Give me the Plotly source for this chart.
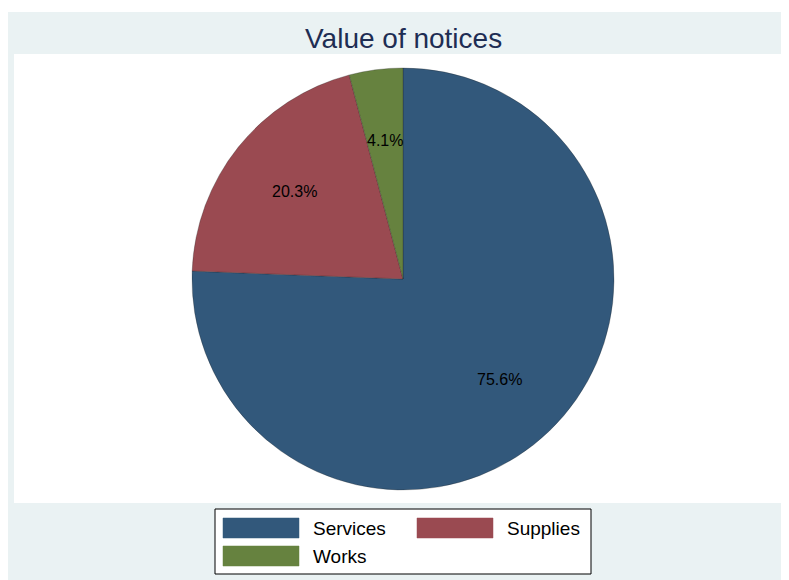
import math

import plotly.graph_objects as go

labels = ["Services", "Supplies", "Works"]
shares = [75.6, 20.3, 4.1]
colors = ["#32587b", "#9a4a51", "#66823f"]

# the page body adds an 8px margin, so the figure is 8px smaller and everything is shifted back
OFF = 8
W, H = 789 - OFF, 580 - OFF


def px(x):
    return (x - OFF) / W


def py(y):
    return 1 - (y - OFF) / H


# pie placement in pixels of the window
cx, cy, rad = 403, 279, 211

fig = go.Figure()
fig.add_trace(go.Pie(labels=labels, values=shares, sort=False, direction="clockwise", rotation=0,
                     marker=dict(colors=colors, line=dict(color="rgba(30,30,30,0.35)", width=0.8)),
                     textinfo="none", hoverinfo="label+percent", showlegend=False,
                     domain=dict(x=[px(cx - rad), px(cx + rad)], y=[py(cy + rad), py(cy - rad)])))

# percentage labels at mid angle of each slice
annotations = []
total = sum(shares)
start = 0.0
for v in shares:
    mid = (start + v / 2) / total * 2 * math.pi
    start += v
    lx = cx + 0.66 * rad * math.sin(mid)
    ly = cy - 0.66 * rad * math.cos(mid)
    annotations.append(dict(x=px(lx), y=py(ly), xref="paper", yref="paper", text="%.1f%%" % (v / total * 100),
                            xanchor="center", yanchor="middle", showarrow=False,
                            font=dict(size=16, color="black")))

shapes = [
    dict(type="rect", xref="paper", yref="paper", x0=0, x1=1, y0=0, y1=py(12),
         fillcolor="#eaf2f3", line=dict(width=0), layer="below"),
    dict(type="rect", xref="paper", yref="paper", x0=px(14), x1=1, y0=py(503), y1=py(54),
         fillcolor="white", line=dict(width=0), layer="below"),
    dict(type="rect", xref="paper", yref="paper", x0=px(215), x1=px(591), y0=py(574), y1=py(509),
         fillcolor="white", line=dict(color="black", width=1), layer="below"),
]

# hand-made legend with wide swatches, two columns
slots = [(223, 518), (417, 518), (223, 546)]
for (sx, sy), name, col in zip(slots, labels, colors):
    shapes.append(dict(type="rect", xref="paper", yref="paper", x0=px(sx), x1=px(sx + 76),
                       y0=py(sy + 20), y1=py(sy), fillcolor=col, line=dict(color=col, width=0.5)))
    annotations.append(dict(x=px(sx + 88), y=py(sy + 10), xref="paper", yref="paper", text=name,
                            xanchor="left", yanchor="middle", showarrow=False,
                            font=dict(size=19, color="black")))

annotations.append(dict(x=px(403.5), y=py(38), xref="paper", yref="paper", text="Value of notices",
                        xanchor="center", yanchor="middle", showarrow=False,
                        font=dict(size=28, color="#1e2d53")))

fig.update_layout(width=W,
                  height=H,
                  margin=dict(l=0, r=0, t=0, b=0),
                  paper_bgcolor="white",
                  font=dict(family="Liberation Sans, Arial, sans-serif"),
                  shapes=shapes,
                  annotations=annotations,)
fig.write_html("out.html")
